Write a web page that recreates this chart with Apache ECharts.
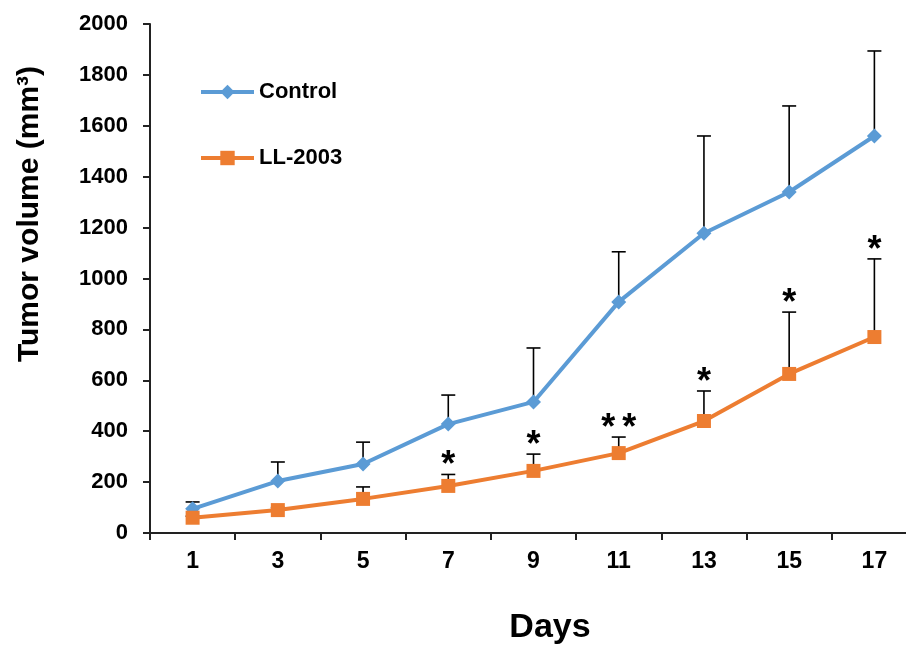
<!DOCTYPE html>
<html>
<head>
<meta charset="utf-8">
<script src="https://cdn.jsdelivr.net/npm/echarts@6/dist/echarts.min.js"></script>
<style>
html,body{margin:0;padding:0;background:#fff;}
#chart{width:906px;height:646px;}
</style>
</head>
<body>
<div id="chart"></div>
<script>
const days = ['1', '3', '5', '7', '9', '11', '13', '15', '17'];
const controlMean = [95, 204, 271, 428, 515, 908, 1178, 1340, 1560];
const controlUpper = [122, 279, 357, 542, 727, 1105, 1560, 1678, 1894];
const llMean = [60, 90, 134, 185, 244, 314, 440, 625, 770];
const llUpper = [66, 100, 181, 230, 310, 377, 558, 868, 1077];
const llStars = ['', '', '', '*', '*', '**', '*', '*', '*'];
const controlStars = ['', '', '', '', '', '', '', '', ''];
const yTicks = [0, 2000, 200];

const FONT = 'Liberation Sans, Arial, sans-serif';

function errorSeries(means, uppers, stars) {
  return {
    type: 'custom',
    z: 1,
    silent: true,
    clip: false,
    data: means.map((m, i) => [i, m, uppers[i]]),
    renderItem: function (params, api) {
      const i = api.value(0);
      const p0 = api.coord([i, api.value(1)]);
      const p1 = api.coord([i, api.value(2)]);
      const half = 7;
      const children = [
        { type: 'line', shape: { x1: p0[0], y1: p0[1], x2: p1[0], y2: p1[1] }, style: { stroke: '#000', lineWidth: 1.6 } },
        { type: 'line', shape: { x1: p1[0] - half, y1: p1[1], x2: p1[0] + half, y2: p1[1] }, style: { stroke: '#000', lineWidth: 1.6 } }
      ];
      const s = stars[params.dataIndex];
      const n = s.length;
      for (let k = 0; k < n; k++) {
        const off = (k - (n - 1) / 2) * 21;
        children.push({
          type: 'text',
          style: { text: '*', x: p1[0] + off, y: p1[1] - 8, align: 'center', verticalAlign: 'middle', font: 'bold 36px ' + FONT, fill: '#000' }
        });
      }
      return { type: 'group', children: children };
    }
  };
}

const chart = echarts.init(document.getElementById('chart'));
chart.setOption({
  animation: false,
  backgroundColor: '#fff',
  grid: { left: 150, width: 767, top: 24, height: 509, containLabel: false, outerBoundsMode: 'none' },
  legend: {
    orient: 'vertical',
    left: 194,
    top: 76,
    itemWidth: 53,
    itemHeight: 18,
    itemGap: 44,
    data: ['Control', 'LL-2003'],
    lineStyle: { width: 4 },
    textStyle: { fontFamily: FONT, fontWeight: 'bold', fontSize: 22, color: '#000', lineHeight: 22 }
  },
  xAxis: {
    type: 'category',
    data: days,
    boundaryGap: true,
    axisLine: { lineStyle: { color: '#222', width: 2 } },
    axisTick: { show: true, length: 7, inside: false, lineStyle: { color: '#222', width: 2 } },
    axisLabel: { margin: 17, fontFamily: FONT, fontWeight: 'bold', fontSize: 23, color: '#000' },
    splitLine: { show: false }
  },
  yAxis: {
    type: 'value',
    min: yTicks[0],
    max: yTicks[1],
    interval: yTicks[2],
    axisLine: { show: true, lineStyle: { color: '#222', width: 2 } },
    axisTick: { show: true, length: 7, lineStyle: { color: '#222', width: 2 } },
    axisLabel: { margin: 22, fontFamily: FONT, fontWeight: 'bold', fontSize: 22, color: '#000', formatter: function (v) { return String(v); } },
    splitLine: { show: false }
  },
  graphic: [
    { type: 'text', x: 30, y: 214, rotation: Math.PI / 2,
      style: { text: 'Tumor volume (mm³)', align: 'center', verticalAlign: 'middle', font: 'bold 30px ' + FONT, fill: '#000' } },
    { type: 'text', x: 550, y: 628,
      style: { text: 'Days', align: 'center', verticalAlign: 'middle', font: 'bold 34px ' + FONT, fill: '#000' } }
  ],
  series: [
    errorSeries(controlMean, controlUpper, controlStars),
    errorSeries(llMean, llUpper, llStars),
    {
      name: 'Control', type: 'line', data: controlMean, z: 3,
      symbol: 'diamond', symbolSize: 15,
      lineStyle: { color: '#5B9BD5', width: 4 },
      itemStyle: { color: '#5B9BD5' }
    },
    {
      name: 'LL-2003', type: 'line', data: llMean, z: 3,
      symbol: 'rect', symbolSize: 14,
      lineStyle: { color: '#ED7D31', width: 4 },
      itemStyle: { color: '#ED7D31' }
    }
  ]
});
</script>
</body>
</html>
